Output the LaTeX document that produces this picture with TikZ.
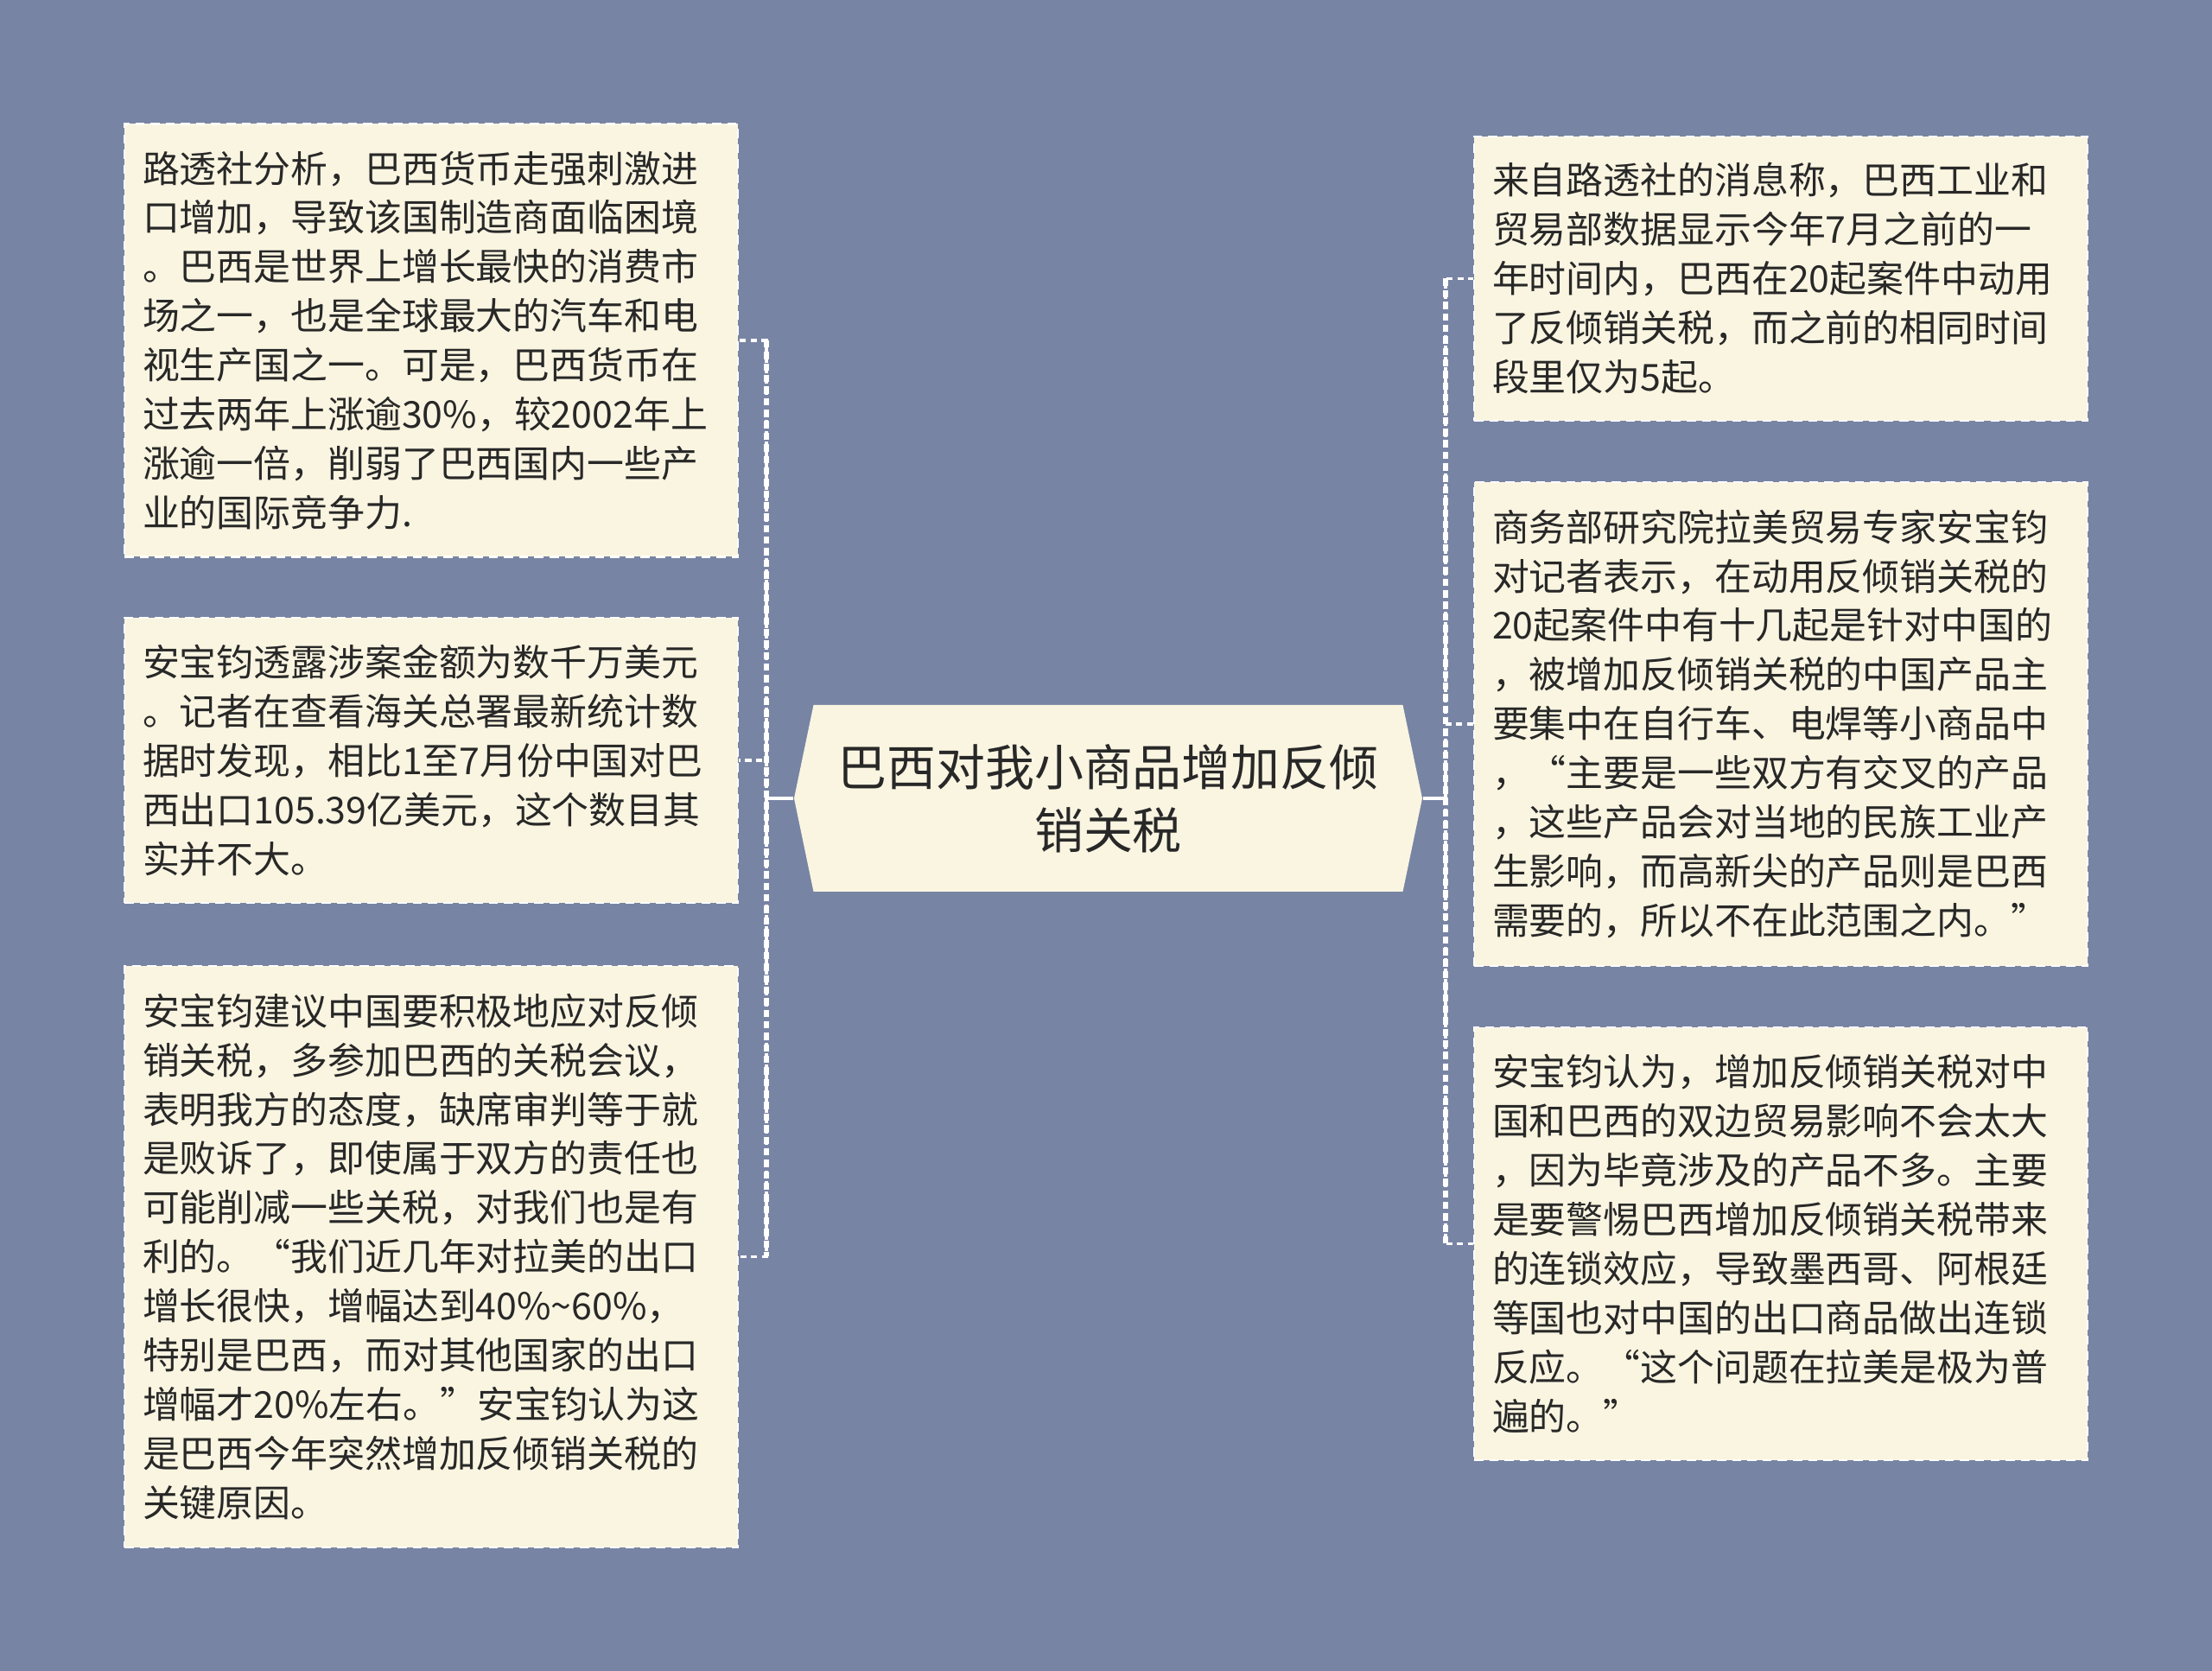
\documentclass[tikz,border=0pt]{standalone}
\usepackage{fontspec}
\setmainfont{Noto Sans CJK SC}
\usepackage{tikz}
\usetikzlibrary{calc,positioning}
\tikzstyle{note}=[draw=white,dash pattern=on 3pt off 2pt,line width=0.7pt,fill=mycream,text=mytext,align=left,text width=6.68cm,inner xsep=0.21cm,inner ysep=0pt,font=\fontsize{12.2pt}{16.2pt}\selectfont]
\tikzstyle{topic}=[text=mytext,align=center,minimum width=7.27cm,minimum height=2.16cm,inner sep=0pt,font=\fontsize{16.2pt}{20.8pt}\selectfont]
\tikzstyle{link}=[draw=white,line width=1pt]
\tikzstyle{branch}=[draw=white,line width=0.9pt,dash pattern=on 2pt off 1.5pt]
\tikzstyle{trunk}=[draw=white,line width=1.6pt,dash pattern=on 2.4pt off 1.4pt]
\definecolor{mybg}{RGB}{120,132,163}
\definecolor{mycream}{RGB}{250,245,225}
\definecolor{mytext}{RGB}{40,40,40}

\begin{document}
\begin{tikzpicture}[x=1cm,y=1cm]
\fill[mybg] (0, 0) rectangle (25.6, 19.34);
% left side
\draw (4.99, 15.40) node [note,minimum height=5.01cm] (l1) {路透社分析，巴西货币走强刺激进\\口增加，导致该国制造商面临困境\\。巴西是世界上增长最快的消费市\\场之一，也是全球最大的汽车和电\\视生产国之一。可是，巴西货币在\\过去两年上涨逾30\%，较2002年上\\涨逾一倍，削弱了巴西国内一些产\\业的国际竞争力.};
\draw (4.99, 10.54) node [note,minimum height=3.30cm] (l2) {安宝钧透露涉案金额为数千万美元\\。记者在查看海关总署最新统计数\\据时发现，相比1至7月份中国对巴\\西出口105.39亿美元，这个数目其\\实并不大。};
\draw (4.99, 4.795) node [note,minimum height=6.73cm] (l3) {安宝钧建议中国要积极地应对反倾\\销关税，多参加巴西的关税会议，\\表明我方的态度，缺席审判等于就\\是败诉了，即使属于双方的责任也\\可能削减一些关税，对我们也是有\\利的。“我们近几年对拉美的出口\\增长很快，增幅达到40\%{\char"7E}60\%，\\特别是巴西，而对其他国家的出口\\增幅才20\%左右。”安宝钧认为这\\是巴西今年突然增加反倾销关税的\\关键原因。};
% right side
\draw (20.61, 16.115) node [note,minimum height=3.29cm] (r1) {来自路透社的消息称，巴西工业和\\贸易部数据显示今年7月之前的一\\年时间内，巴西在20起案件中动用\\了反倾销关税，而之前的相同时间\\段里仅为5起。};
\draw (20.61, 10.96) node [note,minimum height=5.60cm] (r2) {商务部研究院拉美贸易专家安宝钧\\对记者表示，在动用反倾销关税的\\20起案件中有十几起是针对中国的\\，被增加反倾销关税的中国产品主\\要集中在自行车、电焊等小商品中\\，“主要是一些双方有交叉的产品\\，这些产品会对当地的民族工业产\\生影响，而高新尖的产品则是巴西\\需要的，所以不在此范围之内。”};
\draw (20.61, 4.945) node [note,minimum height=5.01cm] (r3) {安宝钧认为，增加反倾销关税对中\\国和巴西的双边贸易影响不会太大\\，因为毕竟涉及的产品不多。主要\\是要警惕巴西增加反倾销关税带来\\的连锁效应，导致墨西哥、阿根廷\\等国也对中国的出口商品做出连锁\\反应。“这个问题在拉美是极为普\\遍的。”};
% centre
\coordinate (c) at (12.825, 10.10);
\fill[mycream] ($(c)+(-3.41,1.08)$) -- ($(c)+(3.41,1.08)$) -- ($(c)+(3.635,0)$) -- ($(c)+(3.41,-1.08)$) -- ($(c)+(-3.41,-1.08)$) -- ($(c)+(-3.635,0)$) -- cycle;
\draw (c) node [topic] (root) {巴西对我小商品增加反倾\\销关税};
\coordinate (jl) at (8.87, 10.10);
\coordinate (jr) at (16.73, 10.10);
\draw[link] (root.west) -- (jl);
\draw[link] (root.east) -- (jr);
\draw[trunk] (l1.east -| jl) -- (l3.east -| jl);
\draw[trunk] (r1.west -| jr) -- (r3.west -| jr);
\draw[branch] (jl) |- (l1.east);
\draw[branch] (jl) |- (l2.east);
\draw[branch] (jl) |- (l3.east);
\draw[branch] (jr) |- (r1.west);
\draw[branch] (jr) |- (r2.west);
\draw[branch] (jr) |- (r3.west);
\end{tikzpicture}
\end{document}
